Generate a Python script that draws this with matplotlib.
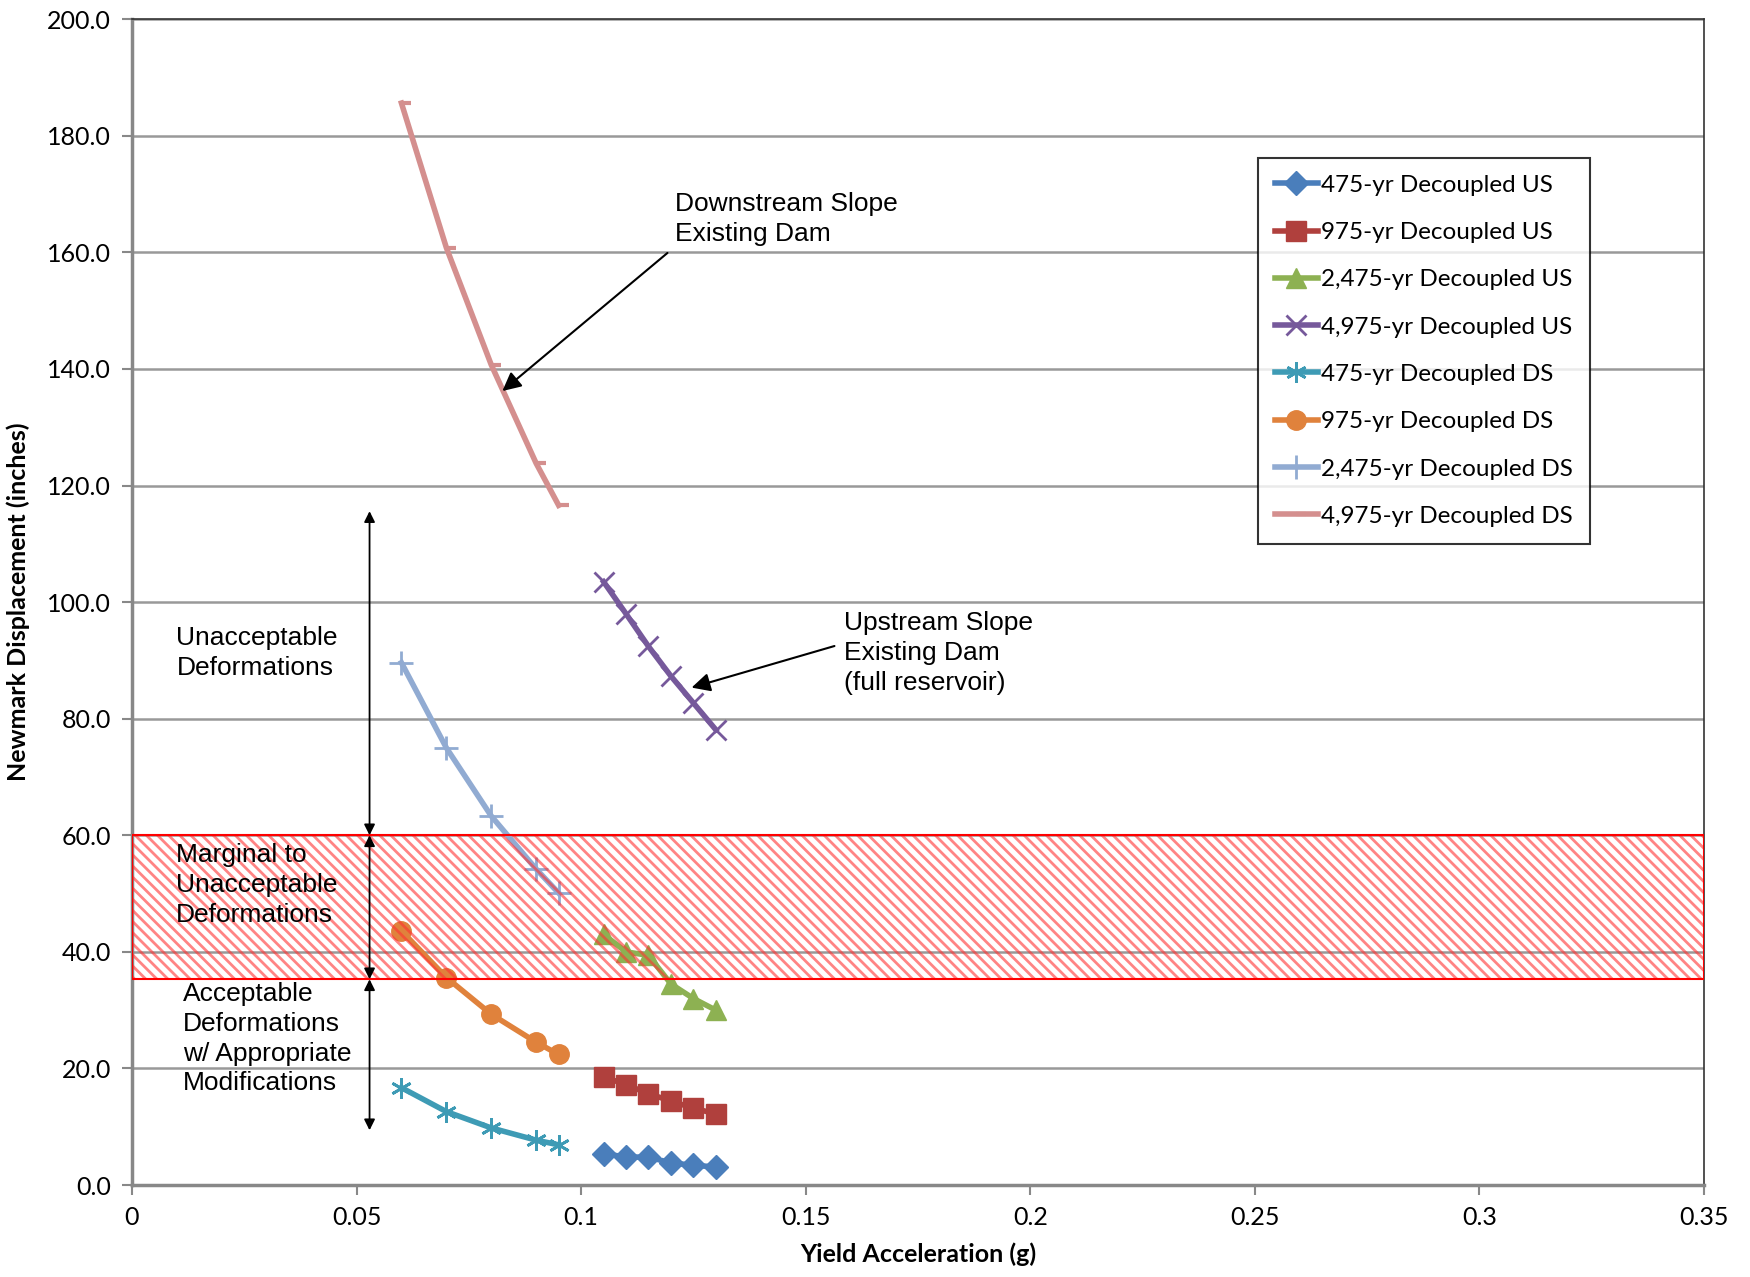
import matplotlib
matplotlib.use("Agg")
import matplotlib.pyplot as plt
from matplotlib.patches import Rectangle

# yield acceleration (g)
x_ds = [0.06, 0.07, 0.08, 0.09, 0.095]
x_us = [0.105, 0.11, 0.115, 0.12, 0.125, 0.13]

# newmark displacement (inches)
us_475 = [5.4, 4.8, 4.8, 3.8, 3.4, 3.1]
us_975 = [18.6, 17.2, 15.7, 14.4, 13.2, 12.2]
us_2475 = [43.0, 40.0, 39.4, 34.5, 32.0, 30.0]
us_4975 = [103.5, 98.0, 92.4, 87.3, 82.7, 78.1]
ds_475 = [16.7, 12.6, 9.8, 7.7, 6.9]
ds_975 = [43.6, 35.6, 29.3, 24.5, 22.4]
ds_2475 = [89.6, 75.0, 63.3, 54.2, 50.1]
ds_4975 = [185.6, 160.8, 140.7, 123.8, 116.6]

labels = ["475-yr Decoupled US", "975-yr Decoupled US", "2,475-yr Decoupled US",
          "4,975-yr Decoupled US", "475-yr Decoupled DS", "975-yr Decoupled DS",
          "2,475-yr Decoupled DS", "4,975-yr Decoupled DS"]

xticks = [0, 0.05, 0.1, 0.15, 0.2, 0.25, 0.3, 0.35]
xtick_labels = ["0", "0.05", "0.1", "0.15", "0.2", "0.25", "0.3", "0.35"]
yticks = [0, 20, 40, 60, 80, 100, 120, 140, 160, 180, 200]

# band of marginal deformations
band_lo, band_hi = 35.3, 60.0

plt.rcParams['font.family'] = ['Lato', 'DejaVu Sans']
plt.rcParams['hatch.linewidth'] = 2.0

fig = plt.figure(figsize=(17.5, 12.77), dpi=100)
ax = fig.add_axes([0.0754, 0.072, 0.8983, 0.913])

dash = [(0, 0), (1, 0)]
series = [
    (x_us, us_475, '#4A7EBB', 'D', 12, 1),
    (x_us, us_975, '#B0403D', 's', 14, 1),
    (x_us, us_2475, '#8DB152', '^', 15, 1),
    (x_us, us_4975, '#76599B', 'x', 14, 2),
    (x_ds, ds_475, '#3E9BB5', (6, 2, 0), 15, 2),
    (x_ds, ds_975, '#E0823C', 'o', 14, 1),
    (x_ds, ds_2475, '#91ABD2', '+', 17, 2),
    (x_ds, ds_4975, '#D48F8E', dash, 14, 3),
]
for (xs, ys, c, m, ms, mew), lab in zip(series, labels):
    ax.plot(xs, ys, color=c, lw=4, marker=m, markersize=ms, mew=mew,
            mec=c, mfc=c, label=lab, zorder=3)

# hatched band
ax.add_patch(Rectangle((0, band_lo), 0.35, band_hi - band_lo, facecolor='none',
                       edgecolor=(1, 0.2, 0.2, 0.6), lw=0, hatch='\\\\\\', zorder=4))
ax.add_patch(Rectangle((0, band_lo), 0.35, band_hi - band_lo, facecolor='none',
                       edgecolor='red', lw=1.5, zorder=5))

ax.set_xlim(0, 0.35)
ax.set_ylim(0, 200)
ax.set_xticks(xticks)
ax.set_xticklabels(xtick_labels)
ax.set_yticks(yticks)
ax.set_yticklabels(["%.1f" % v for v in yticks])
ax.tick_params(labelsize=18, length=7, width=1.5, color='#888888', pad=8)
ax.grid(axis='y', color='#999999', lw=1.8, zorder=0)
ax.set_axisbelow(True)
for s in ['left', 'bottom']:
    ax.spines[s].set_color('#888888')
    ax.spines[s].set_linewidth(2.5)
for s in ['top', 'right']:
    ax.spines[s].set_color('#333333')
    ax.spines[s].set_linewidth(1.2)

ax.set_xlabel("Yield Acceleration (g)", fontsize=18, fontweight='bold', labelpad=10)
ax.set_ylabel("Newmark Displacement (inches)", fontsize=18, fontweight='bold', labelpad=12)

leg = ax.legend(loc='upper right', bbox_to_anchor=(0.9276, 0.881), fontsize=17.5,
                frameon=True, fancybox=False, edgecolor='black', handlelength=1.8,
                labelspacing=1.08, borderpad=0.7, handletextpad=0.12, borderaxespad=0)
leg.get_frame().set_linewidth(1.5)
leg.set_zorder(6)

# annotations
arial = ['Liberation Sans', 'DejaVu Sans']
fs = 19
ls = 1.3
ax.text(0.121, 170.3, "Downstream Slope\nExisting Dam", fontsize=fs, family=arial,
        va='top', ha='left', linespacing=ls, zorder=7)
ax.annotate("", xy=(0.082, 135.9), xytext=(0.1197, 160.2),
            arrowprops=dict(arrowstyle='-|>', color='black', lw=1.5, mutation_scale=28))
ax.text(0.1585, 98.4, "Upstream Slope\nExisting Dam\n(full reservoir)", fontsize=fs,
        family=arial, va='top', ha='left', linespacing=ls, zorder=7)
ax.annotate("", xy=(0.124, 85.2), xytext=(0.157, 92.6),
            arrowprops=dict(arrowstyle='-|>', color='black', lw=1.5, mutation_scale=28))

ax.text(0.0099, 95.9, "Unacceptable\nDeformations", fontsize=fs, family=arial,
        va='top', ha='left', linespacing=ls, zorder=7)
ax.text(0.0097, 58.6, "Marginal to\nUnacceptable\nDeformations", fontsize=fs,
        family=arial, va='top', ha='left', linespacing=ls, zorder=7)
ax.text(0.0114, 34.8, "Acceptable\nDeformations\nw/ Appropriate\nModifications",
        fontsize=fs, family=arial, va='top', ha='left', linespacing=ls, zorder=7)

xa = 0.0529
for y0, y1 in [(115.6, band_hi), (band_hi, band_lo), (band_lo, 9.4)]:
    ax.annotate("", xy=(xa, y1), xytext=(xa, y0),
                arrowprops=dict(arrowstyle='<|-|>', color='black', lw=1.3,
                                mutation_scale=16, shrinkA=0, shrinkB=0), zorder=7)

fig.savefig("out.png", dpi=100)
